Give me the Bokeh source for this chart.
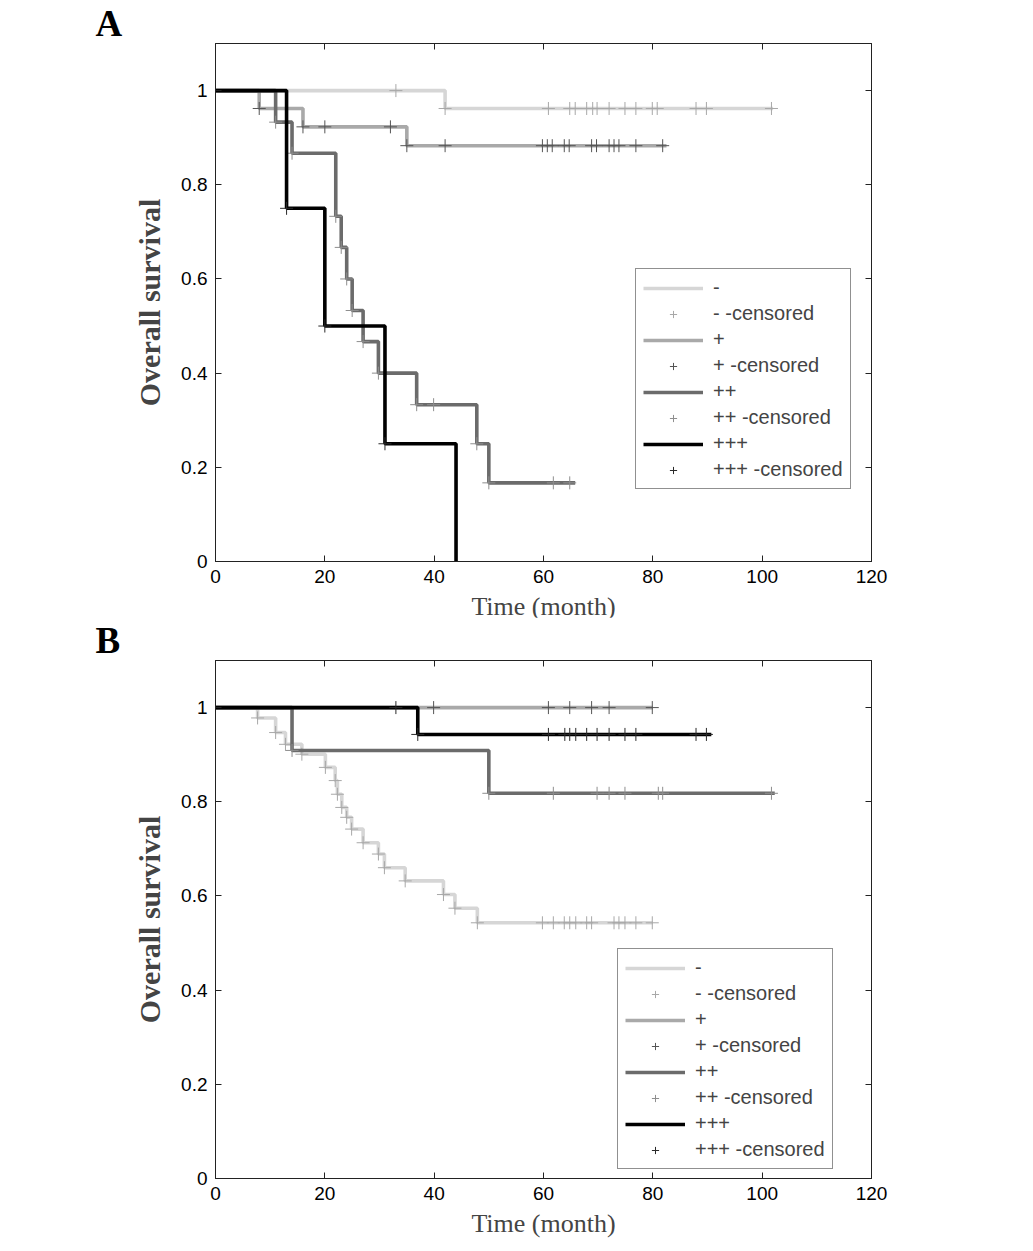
import numpy as np
from bokeh.plotting import figure
from bokeh.models import (Range1d, FixedTicker, LinearAxis, Legend, LegendItem,
                          Title, CustomJSTickFormatter)
from bokeh.layouts import column
from bokeh.embed import file_html
from bokeh.resources import INLINE

groups = ["-", "+", "++", "+++"]
line_colors = ["#d6d6d6", "#a9a9a9", "#6b6b6b", "#000000"]
mark_colors = ["#a8a8a8", "#555555", "#8e8e8e", "#2a2a2a"]

x_ticks = [0, 20, 40, 60, 80, 100, 120]
y_ticks = [0, 0.2, 0.4, 0.6, 0.8, 1]
y_tick_labels = ["0", "0.2", "0.4", "0.6", "0.8", "1"]

# panel A: step times, survival after each step, last follow-up, censored times
a_minus_t = [0, 42]
a_minus_s = [1.0, 0.962]
a_minus_end = 102
a_minus_cens = [33, 42, 60.9, 64.8, 65.8, 67.9, 69.0, 69.8, 72.0, 74.9, 76.9,
                79.9, 80.8, 87.9, 89.8, 101.7]

a_plus_t = [0, 8, 16, 35]
a_plus_s = [1.0, 0.962, 0.923, 0.883]
a_plus_end = 82.5
a_plus_cens = [8, 16, 20, 32, 35, 42, 59.8, 60.7, 61.6, 63.8, 64.7, 68.8, 69.7,
               72.0, 72.9, 73.8, 76.9, 81.8]

a_pp_t = [0, 11, 14, 22, 23, 24, 25, 27, 29.8, 36.8, 47.8, 50]
a_pp_s = [1.0, 0.933, 0.867, 0.733, 0.667, 0.6, 0.533, 0.467, 0.4, 0.333, 0.25, 0.167]
a_pp_end = 65.8
a_pp_cens = [11, 14, 22, 23, 24, 25, 27, 29.8, 36.8, 39.9, 47.8, 50, 61.8, 64.8]

a_ppp_t = [0, 13, 20, 31, 44]
a_ppp_s = [1.0, 0.75, 0.5, 0.25, 0.0]
a_ppp_end = 44
a_ppp_cens = [13, 20, 31]

# panel B
b_minus_t = [0, 7.7, 11, 12.8, 15.8, 20.1, 21.9, 22.3, 23.1, 24.0, 24.9, 27.0,
             29.8, 30.9, 34.7, 41.7, 43.8, 47.9]
b_minus_s = [1.0, 0.978, 0.947, 0.922, 0.901, 0.873, 0.845, 0.816, 0.788, 0.767,
             0.742, 0.713, 0.689, 0.660, 0.632, 0.603, 0.574, 0.543]
b_minus_end = 80
b_minus_cens = [7.7, 11, 12.8, 15.8, 20.1, 21.9, 22.3, 23.1, 24.0, 24.9, 27.0,
                29.8, 30.9, 34.7, 41.7, 43.8, 47.9, 59.8, 61.8, 63.8, 64.8, 65.9,
                67.9, 68.8, 72.9, 73.8, 74.9, 76.9, 79.9]

b_plus_t = [0]
b_plus_s = [1.0]
b_plus_end = 80
b_plus_cens = [39.9, 60.9, 64.8, 68.8, 72.0, 79.9]

b_pp_t = [0, 14, 50]
b_pp_s = [1.0, 0.909, 0.818]
b_pp_end = 102.3
b_pp_cens = [14, 50, 61.8, 69.8, 72.0, 74.9, 81.0, 81.8, 101.7]

b_ppp_t = [0, 37]
b_ppp_s = [1.0, 0.943]
b_ppp_end = 90.7
b_ppp_cens = [33, 37, 60.9, 63.9, 64.8, 65.9, 67.9, 69.8, 72.0, 74.9, 76.9, 87.9, 89.8]

panel_a = [(a_minus_t, a_minus_s, a_minus_end, a_minus_cens),
           (a_plus_t, a_plus_s, a_plus_end, a_plus_cens),
           (a_pp_t, a_pp_s, a_pp_end, a_pp_cens),
           (a_ppp_t, a_ppp_s, a_ppp_end, a_ppp_cens)]
panel_b = [(b_minus_t, b_minus_s, b_minus_end, b_minus_cens),
           (b_plus_t, b_plus_s, b_plus_end, b_plus_cens),
           (b_pp_t, b_pp_s, b_pp_end, b_pp_cens),
           (b_ppp_t, b_ppp_s, b_ppp_end, b_ppp_cens)]

SANS = "Liberation Sans"
SERIF = "Liberation Serif"


def style_axis(ax, labels=True):
    ax.major_tick_in = 6
    ax.major_tick_out = 0
    ax.minor_tick_in = 0
    ax.minor_tick_out = 0
    ax.axis_line_color = "#222222"
    ax.major_tick_line_color = "#222222"
    ax.major_label_text_font = SANS
    ax.major_label_text_font_size = "19px"
    ax.major_label_text_color = "black"
    ax.major_label_standoff = 8
    if not labels:
        ax.formatter = CustomJSTickFormatter(code="return ''")
        ax.major_label_standoff = 0
        ax.major_label_text_font_size = "1px"


def make_panel(letter, data, legend_xy, top_border, bottom_border):
    p = figure(frame_width=656, frame_height=518, x_range=Range1d(0, 120),
               y_range=Range1d(0, 1.1), output_backend="svg", toolbar_location=None,
               min_border_left=215, min_border_right=100, min_border_top=top_border,
               min_border_bottom=bottom_border)
    p.grid.visible = False
    p.outline_line_color = "#222222"
    p.background_fill_color = "white"
    p.border_fill_color = "white"

    p.xaxis.ticker = FixedTicker(ticks=x_ticks)
    p.yaxis.ticker = FixedTicker(ticks=y_ticks)
    p.yaxis.major_label_overrides = dict(zip(y_ticks, y_tick_labels))
    style_axis(p.xaxis[0])
    style_axis(p.yaxis[0])
    p.xaxis.axis_label = "Time (month)"
    p.xaxis.axis_label_text_font = SERIF
    p.xaxis.axis_label_text_font_size = "26px"
    p.xaxis.axis_label_text_font_style = "normal"
    p.xaxis.axis_label_standoff = 6
    p.yaxis.axis_label = "Overall survival"
    p.yaxis.axis_label_text_font = SERIF
    p.yaxis.axis_label_text_font_size = "30px"
    p.yaxis.axis_label_text_font_style = "bold"
    p.yaxis.axis_label_standoff = 12

    top = LinearAxis(ticker=FixedTicker(ticks=x_ticks))
    style_axis(top, labels=False)
    p.add_layout(top, "above")
    right = LinearAxis(ticker=FixedTicker(ticks=y_ticks))
    style_axis(right, labels=False)
    p.add_layout(right, "right")

    # panel letter, pushed left of the frame
    p.add_layout(Title(text=letter, align="left", offset=-120, standoff=0,
                       text_font=SERIF, text_font_size="37px",
                       text_font_style="bold", text_color="black"), "above")

    items = []
    for g, lc, mc, (t, s, end, cens) in zip(groups, line_colors, mark_colors, data):
        xs = list(t) + [end]
        ys = list(s) + [s[-1]]
        ln = p.step(x=xs, y=ys, mode="after", line_width=3.6, line_color=lc)
        idx = np.searchsorted(np.array(t), np.array(cens), side="right") - 1
        cy = np.array(s)[idx]
        mk = p.scatter(x=cens, y=cy, marker="cross", size=13, line_width=1,
                       line_color=mc)
        items.append(LegendItem(label=g, renderers=[ln]))
        items.append(LegendItem(label=g + " -censored", renderers=[mk]))

    leg = Legend(items=items, location=legend_xy)
    leg.label_text_font = SANS
    leg.label_text_font_size = "20px"
    leg.glyph_width = 60
    leg.glyph_height = 18
    leg.label_height = 18
    leg.spacing = 3
    leg.padding = 7
    leg.margin = 0
    leg.label_standoff = 10
    leg.border_line_color = "#222222"
    leg.border_line_width = 1
    leg.background_fill_alpha = 1
    p.add_layout(leg, "center")
    return p


pa = make_panel("A", panel_a, (420, 72), 43, 58)
pb = make_panel("B", panel_b, (402, 9), 35, 60)
pb.margin = (-6, 0, 0, 0)

layout = column(pa, pb)
open("out.html", "w").write(file_html(layout, INLINE))
